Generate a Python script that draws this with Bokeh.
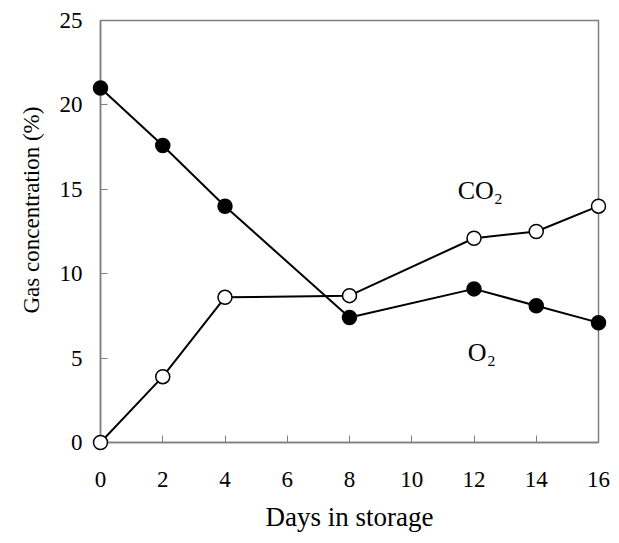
from bokeh.plotting import figure
from bokeh.models import Range1d, FixedTicker, Label, Title
from bokeh.embed import file_html
from bokeh.resources import INLINE

days = [0, 2, 4, 8, 12, 14, 16]
o2 = [21.0, 17.6, 14.0, 7.4, 9.1, 8.1, 7.1]
co2 = [0.0, 3.9, 8.6, 8.7, 12.1, 12.5, 14.0]
x_ticks = [0, 2, 4, 6, 8, 10, 12, 14, 16]
y_ticks = [0, 5, 10, 15, 20, 25]

FONT = "Liberation Serif"
AX = "#7f7f7f"

p = figure(width=611, height=535, output_backend="svg", toolbar_location=None,
           x_range=Range1d(0, 16), y_range=Range1d(0, 25),
           min_border_left=100, min_border_right=13, min_border_top=20, min_border_bottom=93)
p.grid.visible = False
p.outline_line_color = AX
p.outline_line_width = 1.5

for ax in (p.xaxis[0], p.yaxis[0]):
    ax.axis_line_color = AX
    ax.axis_line_width = 1.5
    ax.major_tick_line_color = AX
    ax.major_tick_in = 7
    ax.major_tick_out = 0
    ax.minor_tick_line_color = None
    ax.major_label_text_font = FONT
    ax.major_label_text_font_size = "23px"
    ax.major_label_text_color = "#000000"
    ax.axis_label_text_font = FONT
    ax.axis_label_text_font_size = "27px"
    ax.axis_label_text_font_style = "normal"
    ax.axis_label_text_color = "#000000"

p.xaxis.ticker = FixedTicker(ticks=x_ticks)
p.yaxis.ticker = FixedTicker(ticks=y_ticks)
p.xaxis.major_label_standoff = 29
p.yaxis.major_label_standoff = 18
p.xaxis.axis_label = "Days in storage"
p.xaxis.axis_label_standoff = 12

p.add_layout(Title(text="Gas concentration (%)", align="left", offset=129, standoff=25,
                   text_font=FONT, text_font_size="23px", text_font_style="normal",
                   text_color="#000000"), "left")

p.line(days, o2, line_color="black", line_width=2, level="overlay")
p.line(days, co2, line_color="black", line_width=2, level="overlay")
p.scatter(days, o2, size=14, fill_color="black", line_color="black", line_width=1.5, level="overlay")
p.scatter(days, co2, size=14, fill_color="white", line_color="black", line_width=1.5, level="overlay")

p.add_layout(Label(x=12.2, y=14.9, text="CO₂", text_font=FONT, text_font_size="26px",
                   text_color="#000000", text_align="center", text_baseline="middle"))
p.add_layout(Label(x=12.25, y=5.35, text="O₂", text_font=FONT, text_font_size="26px",
                   text_color="#000000", text_align="center", text_baseline="middle"))

open("out.html", "w").write(file_html(p, INLINE))
